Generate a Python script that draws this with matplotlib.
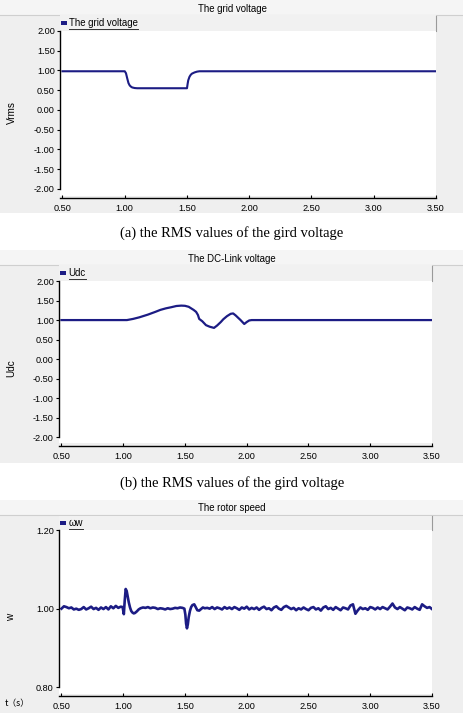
import numpy as np
import matplotlib
matplotlib.use("Agg")
import matplotlib.pyplot as plt
from matplotlib.patches import Rectangle
from matplotlib.lines import Line2D
from matplotlib.ticker import FormatStrFormatter

plt.rcParams['axes.unicode_minus'] = False
plt.rcParams['font.family'] = ['Liberation Sans', 'DejaVu Sans']

# ---------------- data ----------------
# (a) grid voltage (RMS, pu)
t_grid = [0.50, 1.00, 1.01, 1.02, 1.03, 1.04, 1.05, 1.06, 1.08, 1.10,
          1.50, 1.505, 1.51, 1.52, 1.53, 1.54, 1.56, 1.58, 1.60, 3.50]
v_grid = [0.98, 0.98, 0.93, 0.80, 0.68, 0.62, 0.59, 0.57, 0.555, 0.55,
          0.55, 0.66, 0.75, 0.84, 0.89, 0.92, 0.95, 0.97, 0.98, 0.98]

# (b) DC-link voltage (pu)
t_udc = [0.50, 1.03, 1.08, 1.13, 1.20, 1.26, 1.30, 1.345, 1.39, 1.43, 1.47, 1.50,
         1.53, 1.55, 1.57, 1.59, 1.605, 1.615, 1.64, 1.67, 1.70, 1.735, 1.76,
         1.79, 1.81, 1.84, 1.87, 1.89, 1.91, 1.93, 1.95, 1.98, 2.00, 2.02, 2.04, 3.50]
v_udc = [1.00, 1.00, 1.03, 1.07, 1.14, 1.21, 1.26, 1.30, 1.33, 1.36, 1.37, 1.365,
         1.34, 1.30, 1.26, 1.21, 1.13, 1.03, 0.97, 0.87, 0.83, 0.80, 0.86,
         0.95, 1.02, 1.10, 1.16, 1.17, 1.12, 1.06, 1.00, 0.90, 0.95, 0.99, 1.00, 1.00]

w_seg_a = [1.000, 1.006, 1.004, 1.001, 1.003, 0.998, 1.000, 0.997, 0.999, 1.004,
           0.998, 1.001, 1.005, 0.999, 1.002, 0.997, 1.003, 0.999, 1.004, 0.998,
           1.006, 1.001, 1.007, 1.002, 1.005]                      # 0.50 .. 0.98
t_seg_b = [0.995, 1.005, 1.012, 1.02, 1.028, 1.036, 1.045, 1.055, 1.065, 1.075,
           1.085, 1.095, 1.11, 1.125, 1.14, 1.16]
w_seg_b = [1.004, 0.986, 1.020, 1.050, 1.045, 1.032, 1.016, 1.003, 0.994, 0.990,
           0.988, 0.989, 0.993, 0.998, 1.001, 1.003]
w_seg_c = [1.002, 1.004, 1.001, 1.003, 1.002, 0.999, 1.001, 1.000, 0.998, 1.001,
           0.999, 1.000, 1.002, 1.001, 1.003, 1.002]               # 1.18 .. 1.48
t_seg_d = [1.495, 1.503, 1.509, 1.516, 1.523, 1.53, 1.54, 1.55, 1.56, 1.575,
           1.59, 1.60, 1.615, 1.63, 1.645, 1.66]
w_seg_d = [1.000, 0.985, 0.962, 0.950, 0.960, 0.978, 0.994, 1.004, 1.009, 1.011,
           1.002, 0.996, 0.995, 0.999, 1.003, 1.001]
w_seg_e = [1.002, 1.000, 1.004, 0.999, 1.003, 1.001, 0.998, 1.004, 1.000, 1.003,
           0.999, 1.004, 1.001, 0.997, 1.003, 1.000, 1.005, 0.998, 1.002, 0.999,
           1.003, 0.997, 1.002, 1.005, 0.999, 1.001, 0.996, 1.003, 1.006, 1.000,
           0.997, 1.004, 1.007, 1.003, 0.999, 1.002, 0.996, 1.001, 0.998, 1.003,
           0.999, 0.996, 1.002, 1.004, 0.998, 1.001, 0.995, 1.003, 1.006, 0.999,
           1.002, 0.997, 1.004, 1.000, 0.996, 1.003, 1.001, 0.998, 1.008, 1.011,
           0.987, 0.996, 1.003, 0.999, 1.001, 0.997, 1.004, 1.002, 0.998, 1.003,
           0.999, 1.004, 1.001, 0.998, 1.005, 1.013, 1.003, 0.999, 1.004, 1.000,
           0.996, 1.003, 1.001, 0.998, 1.004, 1.000, 0.997, 1.011, 1.006, 1.002,
           1.004, 0.999]                                            # 1.68 .. 3.50

t_speed = np.concatenate([np.linspace(0.50, 0.98, len(w_seg_a)), t_seg_b,
                          np.linspace(1.18, 1.48, len(w_seg_c)), t_seg_d,
                          np.linspace(1.68, 3.50, len(w_seg_e))])
w_speed = np.concatenate([w_seg_a, w_seg_b, w_seg_c, w_seg_d, w_seg_e])

x_ticks = [0.50, 1.00, 1.50, 2.00, 2.50, 3.00, 3.50]
y_ticks_v = [-2.00, -1.50, -1.00, -0.50, 0.00, 0.50, 1.00, 1.50, 2.00]
y_ticks_w = [0.80, 1.00, 1.20]

titles = ["The grid voltage", "The DC-Link voltage", "The rotor speed"]
legends = ["The grid voltage", "Udc", "ωw"]
ylabels = ["Vrms", "Udc", "w"]
captions = ["(a) the RMS values of the gird voltage",
            "(b) the RMS values of the gird voltage"]

# ---------------- layout ----------------
W, H = 464, 720
fig = plt.figure(figsize=(W / 100, H / 100), dpi=100, facecolor='white')
LINE = '#1c1c84'
GRAY = '#efefef'


def fx(x):
    return x / W


def fy(y):
    return 1 - y / H


def rect(x0, y0, x1, y1, **kw):
    fig.patches.append(Rectangle((fx(x0), fy(y1)), (x1 - x0) / W, (y1 - y0) / H,
                                 transform=fig.transFigure, **kw))


def hline(x0, x1, y, **kw):
    fig.add_artist(Line2D([fx(x0), fx(x1)], [fy(y), fy(y)], transform=fig.transFigure, **kw))


def vline(x, y0, y1, **kw):
    fig.add_artist(Line2D([fx(x), fx(x)], [fy(y0), fy(y1)], transform=fig.transFigure, **kw))


panels = [
    dict(g0=0, g1=213, l=60, r=436, t=31, b=196, ylim=(-2.18, 2.0), yt=y_ticks_v,
         ty=9, ly=113, axline=197.7, tl=207),
    dict(g0=250, g1=463, l=59, r=432, t=281, b=443, ylim=(-2.146, 2.0), yt=y_ticks_v,
         ty=259, ly=368, axline=445.7, tl=454),
    dict(g0=500, g1=713, l=59, r=432, t=530, b=694, ylim=(0.783, 1.2), yt=y_ticks_w,
         ty=508, ly=617, axline=696, tl=704),
]
series = [(t_grid, v_grid), (t_udc, v_udc), (t_speed, w_speed)]
lws = [1.5, 1.6, 1.9]

fs = 6.6
for i, p in enumerate(panels):
    # panel background
    rect(0, p['g0'], W, p['g1'], facecolor=GRAY, edgecolor='none', zorder=-5)
    rect(0, p['g0'], W, p['g0'] + 15, facecolor='#f5f5f5', edgecolor='none', zorder=-4)
    hline(0, W, p['g0'] + 15, color='#cfcfcf', lw=0.8, zorder=-3)
    # legend strip
    rect(p['l'], p['g0'] + 15.5, p['r'], p['t'], facecolor='#f1f1f1', edgecolor='none', zorder=-3)
    vline(p['r'], p['g0'] + 15.5, p['t'], color='#9a9a9a', lw=0.8, zorder=-2)
    fig.text(fx(W / 2), fy(p['ty']), titles[i], ha='center', va='center', fontsize=fs + 0.3)
    # legend marker + underlined text
    rect(p['l'] + 1.5, p['g0'] + 21, p['l'] + 6.5, p['g0'] + 25, facecolor=LINE, edgecolor='none', zorder=-1)
    lt = fig.text(fx(p['l'] + 9.5), fy(p['g0'] + 23.5), legends[i], ha='left', va='center',
                  fontsize=fs + 0.3)
    p['legtext'] = lt

    ax = fig.add_axes([fx(p['l']), fy(p['b']), (p['r'] - p['l']) / W, (p['b'] - p['t']) / H])
    ax.set_facecolor('white')
    x, y = series[i]
    ax.plot(x, y, color=LINE, lw=lws[i], solid_joinstyle='round')
    ax.set_xlim(0.48, 3.5)
    ax.set_ylim(*p['ylim'])
    ax.set_xticks(x_ticks)
    ax.set_yticks(p['yt'])
    ax.xaxis.set_major_formatter(FormatStrFormatter('%.2f'))
    ax.yaxis.set_major_formatter(FormatStrFormatter('%.2f'))
    for s in ['top', 'right']:
        ax.spines[s].set_visible(False)
    ax.spines['left'].set_bounds(p['yt'][0], p['yt'][-1])
    ax.spines['left'].set_linewidth(1.0)
    ax.spines['bottom'].set_position(('outward', (p['axline'] - p['b']) * 0.72))
    ax.spines['bottom'].set_linewidth(1.0)
    ax.tick_params(axis='y', direction='out', length=2.5, width=0.8, pad=1.2, labelsize=fs)
    ax.tick_params(axis='x', direction='in', length=2.5, width=0.8, pad=4.5, labelsize=fs)
    fig.text(fx(11.5), fy(p['ly']), ylabels[i], rotation=90, ha='center', va='center', fontsize=fs + 0.6)

fig.text(fx(17), fy(704), "t（s）", ha='center', va='center', fontsize=6.3,
         family=['Noto Sans CJK SC', 'DejaVu Sans'])

for cap, yy in zip(captions, [233, 483]):
    fig.text(fx(232), fy(yy), cap, ha='center', va='center', fontsize=10.5,
             family=['Liberation Serif', 'DejaVu Serif'])

# underline legend texts
fig.canvas.draw()
r = fig.canvas.get_renderer()
for p in panels:
    bb = p['legtext'].get_window_extent(renderer=r)
    yb = (bb.y0 - 0.5) / H
    fig.add_artist(Line2D([bb.x0 / W, bb.x1 / W], [yb, yb], transform=fig.transFigure,
                          color='#333333', lw=0.7))

fig.savefig("out.png", dpi=100, facecolor='white')
